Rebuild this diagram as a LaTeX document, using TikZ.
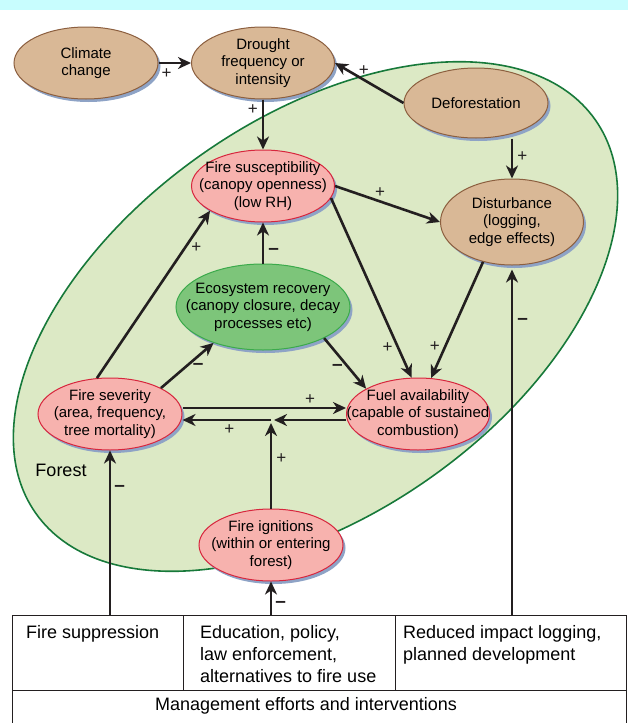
\documentclass[tikz,border=0pt]{standalone}
\usepackage{fontspec}
\setmainfont{Liberation Sans}
\usetikzlibrary{shapes.geometric}
\usetikzlibrary{shadows}
\usetikzlibrary{arrows.meta}
\usetikzlibrary{positioning}
\definecolor{bandcyan}{HTML}{C8FDFE}
\definecolor{forestfill}{HTML}{DCE9C5}
\definecolor{forestline}{HTML}{17793A}
\definecolor{tanfill}{HTML}{D9B896}
\definecolor{tanline}{HTML}{8C5F3F}
\definecolor{redfill}{HTML}{F7B2AE}
\definecolor{redline}{HTML}{D7263D}
\definecolor{greenfill}{HTML}{7DC57A}
\definecolor{greenline}{HTML}{3BAA4B}
\definecolor{shadowblue}{HTML}{8EA3C6}
\definecolor{arrowblack}{HTML}{231F20}

\begin{document}
\begin{tikzpicture}[x=1pt,y=-1pt,
    bubble/.style={ellipse,line width=1pt,inner xsep=-40pt,inner ysep=-20pt,align=center,
      font=\fontsize{15}{17.5}\selectfont,
      drop shadow={shadow xshift=2.5pt,shadow yshift=-3pt,fill=shadowblue,opacity=1}},
    brownbub/.style={bubble,draw=tanline,fill=tanfill},
    redbub/.style={bubble,draw=redline,fill=redfill},
    greenbub/.style={bubble,draw=greenline,fill=greenfill},
    arr/.style={-{Stealth[length=13pt,width=12pt,inset=4pt]},line width=2.6pt,draw=arrowblack},
    sign/.style={font=\fontsize{17}{17}\selectfont,inner sep=0pt,text=arrowblack},
    neg/.style={sign,font=\fontsize{19}{19}\selectfont\bfseries},
    cell/.style={draw=arrowblack,line width=0.8pt,anchor=north west,inner sep=0pt},
    celltext/.style={align=left,inner sep=0pt,font=\fontsize{18}{22}\selectfont}
    ]
\useasboundingbox (0,0) rectangle (628,723);
\fill[bandcyan] (0,0) rectangle (628,10);

\draw[forestline,fill=forestfill,line width=1.6pt] (315.5,316.5) circle [x radius=342pt,y radius=198pt,rotate=35.1];
\node[font=\fontsize{18}{18}\selectfont,inner sep=0pt] (forestlbl) at (61,470) {Forest};

\node[brownbub,minimum width=144,minimum height=72] (clim) at (86,63) {Climate\\change};
\node[brownbub,minimum width=143,minimum height=72] (drought) at (263,63) {Drought\\frequency or\\intensity};
\node[brownbub,minimum width=144,minimum height=70] (defor) at (476,103) {Deforestation};
\node[redbub,minimum width=143,minimum height=72] (susc) at (263,186) {Fire susceptibility\\(canopy openness)\\(low RH)};
\node[brownbub,minimum width=143,minimum height=86] (dist) at (512,222) {Disturbance\\(logging,\\edge effects)};
\node[greenbub,minimum width=174,minimum height=86] (eco) at (263,307) {Ecosystem recovery\\(canopy closure, decay\\processes etc)};
\node[redbub,minimum width=144,minimum height=72] (sev) at (110,414) {Fire severity\\(area, frequency,\\tree mortality)};
\node[redbub,minimum width=143,minimum height=72] (fuel) at (418,414) {Fuel availability\\(capable of sustained\\combustion)};
\node[redbub,minimum width=144,minimum height=72] (ignit) at (271,545) {Fire ignitions\\(within or entering\\forest)};

\node[cell,minimum width=171,minimum height=75] (supp) at (12,615) {};
\node[cell,minimum width=212,minimum height=75] (educ) at (183,615) {};
\node[cell,minimum width=231,minimum height=75] (logg) at (395,615) {};
\node[cell,minimum width=614,minimum height=40] (mgmt) at (12,690) {};
\node[celltext,below right=10pt and 14pt of supp.north west] (supptxt) {Fire suppression};
\node[celltext,below right=10pt and 17pt of educ.north west] (eductxt) {Education, policy,\\law enforcement,\\alternatives to fire use};
\node[celltext,below right=10pt and 8pt of logg.north west] (loggtxt) {Reduced impact logging,\\planned development};
\node[celltext] (mgmttxt) at (306,706) {Management efforts and interventions};

\draw[arr] (clim) -- (drought) node[sign,pos=.25,below=4pt] (s1) {+};
\draw[arr] (drought) -- (susc) node[sign,pos=.2,left=4pt] (s2) {+};
\draw[arr] (defor.west) -- (drought.east) node[sign,pos=.58,above=3pt] (s3) {+};
\draw[arr] (defor.south -| dist.north) -- (dist.north) node[sign,pos=.45,right=4pt] (s4) {+};
\draw[arr] (susc.east) -- (dist.west) node[sign,pos=.43,above=3pt] (s5) {+};
\draw[arr] (susc.-10) -- (fuel.100) node[sign,pos=.83,left=4pt] (s6) {+};
\draw[arr] (dist.-126) -- (fuel.70) node[sign,pos=.73,left=4pt] (s7) {+};
\draw[arr] (eco) -- (susc) node[neg,pos=.3,right=4pt] (m1) {--};
\draw[arr] (sev.27) -- (eco.-144) node[neg,pos=.47,right=6pt] (m2) {--};
\draw[arr] (eco.-27) -- (fuel.154) node[neg,pos=.59,left=5pt] (m3) {--};
\draw[arr] (sev.110) -- (susc.-155) node[sign,pos=.78,right=5pt] (s8) {+};
\draw[arr] ([yshift=6pt]sev.east) -- ([yshift=6pt]sev.east -| fuel.west) node[sign,pos=.78,above=2pt] (s9) {+};
\coordinate (jn) at (271,420);
\draw[arr] (fuel.west |- jn) -- ([xshift=3pt]jn);
\draw[arr] (jn) -- (sev.east |- jn) node[sign,pos=.47,below=3pt] (s10) {+};
\draw[arr] (ignit) -- ([yshift=-3pt]jn) node[sign,pos=.58,right=4pt] (s11) {+};
\draw[arr] (sev.south |- supp.north) -- (sev.south) node[neg,pos=.77,right=3pt] (m4) {--};
\draw[arr] (ignit.south |- educ.north) -- (ignit.south) node[neg,pos=.3,right=3pt] (m5) {--};
\draw[arr] (dist.south |- logg.north) -- ([yshift=-4pt]dist.south) node[neg,pos=.85,right=4pt] (m6) {--};
\end{tikzpicture}
\end{document}
